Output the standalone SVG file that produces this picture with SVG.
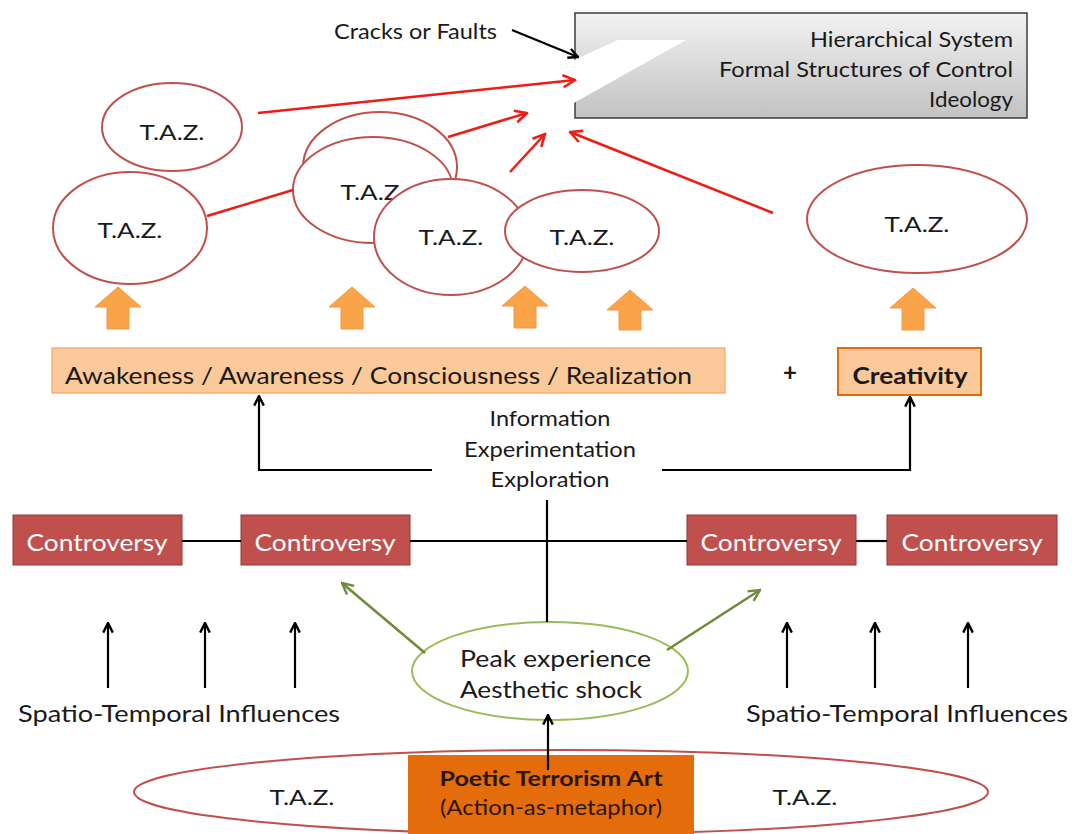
<svg xmlns="http://www.w3.org/2000/svg" width="1073" height="834" viewBox="0 0 1073 834">
<defs>
<linearGradient id="gray" x1="0" y1="0" x2="0" y2="1">
<stop offset="0" stop-color="#f2f2f2"/>
<stop offset="1" stop-color="#c2c2c2"/>
</linearGradient>
<marker id="aBlack" viewBox="0 0 10 10" refX="9" refY="5" markerWidth="12" markerHeight="12" markerUnits="userSpaceOnUse" orient="auto">
<path d="M1,1 L9,5 L1,9" fill="none" stroke="#000" stroke-width="2"/>
</marker>
<marker id="aRed" viewBox="0 0 10 10" refX="9" refY="5" markerWidth="15" markerHeight="15" markerUnits="userSpaceOnUse" orient="auto">
<path d="M1,1 L9,5 L1,9" fill="none" stroke="#ee1c14" stroke-width="1.7"/>
</marker>
<marker id="aGreen" viewBox="0 0 10 10" refX="9" refY="5" markerWidth="14" markerHeight="14" markerUnits="userSpaceOnUse" orient="auto">
<path d="M1,1 L9,5 L1,9" fill="none" stroke="#6f8a3a" stroke-width="1.7"/>
</marker>
</defs>
<style>
text{font-family:"Lato","Liberation Sans",sans-serif;fill:#1a1a1a;}
.t20{font-size:21px;}
.t22{font-size:23px;}
.taz{fill:#fff;stroke:#c0504d;stroke-width:2;}
.up{fill:#f9a449;stroke:#f79646;stroke-width:1;}
.ctrl rect{fill:#c0504d;stroke:#8c3a37;stroke-width:1;}
.ctrl text{fill:#fff;font-size:23px;}
.red{stroke:#ee1c14;stroke-width:2.5;fill:none;}
.blk{stroke:#000;stroke-width:2.2;fill:none;}
.grn{stroke:#6f8a3a;stroke-width:2.5;fill:none;}
</style>

<g id="hierarchy">
<rect x="575" y="13" width="452" height="105" fill="url(#gray)" stroke="#3c3c3c" stroke-width="1.5"/>
<polygon points="572,61 618,40 686,40 572,104" fill="#fff"/>
<text class="t20" x="1013" y="47" text-anchor="end" textLength="203" lengthAdjust="spacingAndGlyphs">Hierarchical System</text>
<text class="t20" x="1013" y="77" text-anchor="end" textLength="294" lengthAdjust="spacingAndGlyphs">Formal Structures of Control</text>
<text class="t20" x="1013" y="107" text-anchor="end" textLength="84" lengthAdjust="spacingAndGlyphs">Ideology</text>
</g>

<g id="cracks-label">
<text class="t20" x="334" y="39" textLength="163" lengthAdjust="spacingAndGlyphs">Cracks or Faults</text>
</g>

<g id="taz1"><ellipse class="taz" cx="172" cy="127" rx="70" ry="44"/><text class="t20" x="172" y="140" text-anchor="middle" textLength="65" lengthAdjust="spacingAndGlyphs">T.A.Z.</text></g>
<g id="taz2"><ellipse class="taz" cx="130" cy="228" rx="77" ry="56"/><text class="t20" x="130" y="238" text-anchor="middle" textLength="65" lengthAdjust="spacingAndGlyphs">T.A.Z.</text></g>
<g id="taz3"><ellipse class="taz" cx="380" cy="167" rx="77" ry="55"/></g>
<g id="taz4"><ellipse class="taz" cx="373" cy="190" rx="80" ry="53"/><text class="t20" x="373" y="200" text-anchor="middle" textLength="65" lengthAdjust="spacingAndGlyphs">T.A.Z.</text></g>
<g id="taz5"><ellipse class="taz" cx="451" cy="237" rx="77" ry="58"/><text class="t20" x="451" y="245" text-anchor="middle" textLength="65" lengthAdjust="spacingAndGlyphs">T.A.Z.</text></g>
<g id="taz6"><ellipse class="taz" cx="582" cy="231" rx="77" ry="41"/><text class="t20" x="582" y="245" text-anchor="middle" textLength="65" lengthAdjust="spacingAndGlyphs">T.A.Z.</text></g>
<g id="taz7"><ellipse class="taz" cx="917" cy="219" rx="110" ry="54"/><text class="t20" x="917" y="232" text-anchor="middle" textLength="65" lengthAdjust="spacingAndGlyphs">T.A.Z.</text></g>

<g id="up-arrows">
<path class="up" d="M118,287 L141,307 L129,307 L129,329 L107,329 L107,307 L95,307 Z"/>
<path class="up" d="M352,287 L375,307 L363,307 L363,329 L341,329 L341,307 L329,307 Z"/>
<path class="up" d="M525,286 L548,306 L536,306 L536,328 L514,328 L514,306 L502,306 Z"/>
<path class="up" d="M630,290 L653,310 L641,310 L641,330 L619,330 L619,310 L607,310 Z"/>
<path class="up" d="M913,288 L936,308 L924,308 L924,330 L902,330 L902,308 L890,308 Z"/>
</g>

<g id="awakeness">
<rect x="52" y="348" width="673" height="45" fill="#fbc99a" stroke="#f5a462" stroke-width="1.2"/>
<text class="t22" x="65" y="384" textLength="627" lengthAdjust="spacingAndGlyphs">Awakeness / Awareness / Consciousness / Realization</text>
</g>
<g id="plus"><text x="790" y="381" text-anchor="middle" style="font-size:24px;font-weight:bold">+</text></g>
<g id="creativity">
<rect x="838" y="348" width="143" height="47" fill="#fbc99a" stroke="#e36c09" stroke-width="2"/>
<text x="910" y="384" text-anchor="middle" style="font-size:22px;font-weight:bold" textLength="115" lengthAdjust="spacingAndGlyphs">Creativity</text>
</g>

<g id="info-label">
<text class="t20" x="550" y="426" text-anchor="middle" textLength="121" lengthAdjust="spacingAndGlyphs">Information</text>
<text class="t20" x="550" y="457" text-anchor="middle" textLength="172" lengthAdjust="spacingAndGlyphs">Experimentation</text>
<text class="t20" x="550" y="487" text-anchor="middle" textLength="119" lengthAdjust="spacingAndGlyphs">Exploration</text>
</g>

<g id="controversy1" class="ctrl"><rect x="13" y="515" width="169" height="50"/><text x="97" y="551" text-anchor="middle" textLength="141" lengthAdjust="spacingAndGlyphs">Controversy</text></g>
<g id="controversy2" class="ctrl"><rect x="241" y="515" width="169" height="50"/><text x="325" y="551" text-anchor="middle" textLength="141" lengthAdjust="spacingAndGlyphs">Controversy</text></g>
<g id="controversy3" class="ctrl"><rect x="687" y="515" width="169" height="50"/><text x="771" y="551" text-anchor="middle" textLength="141" lengthAdjust="spacingAndGlyphs">Controversy</text></g>
<g id="controversy4" class="ctrl"><rect x="887" y="515" width="170" height="50"/><text x="972" y="551" text-anchor="middle" textLength="141" lengthAdjust="spacingAndGlyphs">Controversy</text></g>

<g id="peak">
<ellipse cx="550" cy="671" rx="138" ry="49" fill="#fff" stroke="#9bbb59" stroke-width="2"/>
<text class="t22" x="460" y="667" textLength="191" lengthAdjust="spacingAndGlyphs">Peak experience</text>
<text class="t22" x="460" y="698" textLength="182" lengthAdjust="spacingAndGlyphs">Aesthetic shock</text>
</g>

<g id="st-left"><text class="t22" x="18" y="722" textLength="322" lengthAdjust="spacingAndGlyphs">Spatio-Temporal Influences</text></g>
<g id="st-right"><text class="t22" x="746" y="722" textLength="322" lengthAdjust="spacingAndGlyphs">Spatio-Temporal Influences</text></g>

<g id="taz-bottom">
<ellipse class="taz" cx="561" cy="792" rx="427" ry="42"/>
<text class="t20" x="302" y="805" text-anchor="middle" textLength="65" lengthAdjust="spacingAndGlyphs">T.A.Z.</text>
<text class="t20" x="805" y="805" text-anchor="middle" textLength="65" lengthAdjust="spacingAndGlyphs">T.A.Z.</text>
</g>
<g id="poetic">
<rect x="408" y="755" width="286" height="85" fill="#e46c0a"/>
<text x="551" y="786" text-anchor="middle" style="font-size:21px;font-weight:bold;fill:#2a1608" textLength="223" lengthAdjust="spacingAndGlyphs">Poetic Terrorism Art</text>
<text x="551" y="815" text-anchor="middle" style="font-size:21px;fill:#2a1608" textLength="222" lengthAdjust="spacingAndGlyphs">(Action-as-metaphor)</text>
</g>

<g id="connectors">
<line class="blk" x1="512" y1="30" x2="578" y2="57" marker-end="url(#aBlack)"/>
<line class="red" x1="258" y1="113" x2="575" y2="80" marker-end="url(#aRed)"/>
<line class="red" x1="448" y1="137" x2="527" y2="113" marker-end="url(#aRed)"/>
<line class="red" x1="510" y1="172" x2="545" y2="134" marker-end="url(#aRed)"/>
<line class="red" x1="773" y1="213" x2="570" y2="132" marker-end="url(#aRed)"/>
<line class="red" x1="207" y1="216" x2="293" y2="190"/>
<polyline class="blk" points="432,470 259,470 259,396" marker-end="url(#aBlack)"/>
<polyline class="blk" points="662,470 910,470 910,397" marker-end="url(#aBlack)"/>
<line class="blk" x1="547" y1="500" x2="547" y2="622"/>
<line class="blk" x1="182" y1="541" x2="241" y2="541"/>
<line class="blk" x1="410" y1="541" x2="687" y2="541"/>
<line class="blk" x1="856" y1="541" x2="887" y2="541"/>
<line class="grn" x1="425" y1="653" x2="342" y2="583" marker-end="url(#aGreen)"/>
<line class="grn" x1="667" y1="650" x2="760" y2="590" marker-end="url(#aGreen)"/>
<line class="blk" x1="108" y1="688" x2="108" y2="623" marker-end="url(#aBlack)"/>
<line class="blk" x1="205" y1="688" x2="205" y2="623" marker-end="url(#aBlack)"/>
<line class="blk" x1="295" y1="688" x2="295" y2="623" marker-end="url(#aBlack)"/>
<line class="blk" x1="787" y1="688" x2="787" y2="623" marker-end="url(#aBlack)"/>
<line class="blk" x1="875" y1="688" x2="875" y2="623" marker-end="url(#aBlack)"/>
<line class="blk" x1="968" y1="688" x2="968" y2="623" marker-end="url(#aBlack)"/>
<line class="blk" x1="548" y1="770" x2="548" y2="715" marker-end="url(#aBlack)"/>
</g>
</svg>
